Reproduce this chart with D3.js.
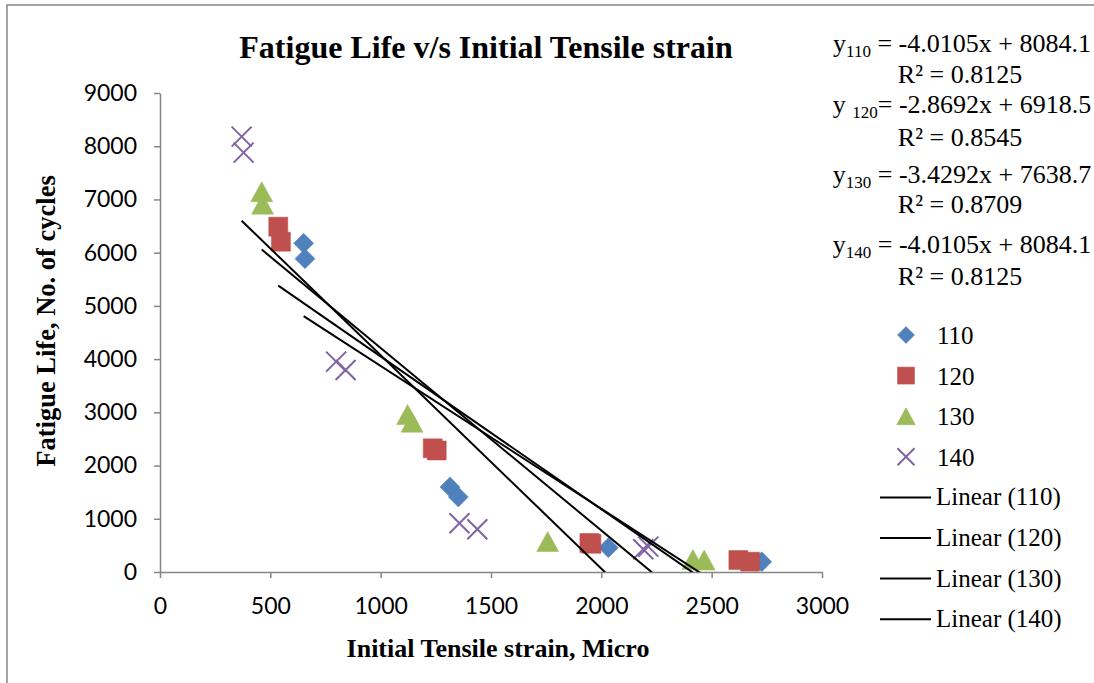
<!DOCTYPE html>
<html>
<head>
<meta charset="utf-8">
<script src="https://cdn.jsdelivr.net/npm/d3@7"></script>
<style>
  html, body { margin: 0; padding: 0; background: #fff; }
  svg { display: block; }
</style>
</head>
<body>
<svg id="chart" width="1094" height="683"></svg>
<script>
// values
const seriesNames = ['110', '120', '130', '140'];

const strain110 = [651, 657, 1314, 1352, 2032, 2727];
const life110 = [6176, 5887, 1597, 1409, 457, 194];

const strain120 = [536, 548, 1236, 1254, 1946, 1955, 2621, 2674];
const life120 = [6488, 6206, 2324, 2283, 545, 530, 225, 194];

const strain130 = [461, 465, 1122, 1142, 1757, 2415, 2466];
const life130 = [7146, 6912, 2959, 2815, 573, 235, 225];

const strain140 = [370, 379, 798, 841, 1357, 1438, 2190, 2213];
const life140 = [8180, 7879, 3952, 3796, 915, 802, 427, 476];

// trend lines (110, the label on the chart is a copy of 140)
const trendSlopes = [-2.683, -2.8692, -3.4292, -4.0105];
const trendIntercepts = [6554, 6918.5, 7638.7, 8084.1];

const eqPrefix = ['y', 'y ', 'y', 'y'];
const eqSub = ['110', '120', '130', '140'];
const eqRest = [' = -4.0105x + 8084.1', '= -2.8692x + 6918.5',
  ' = -3.4292x + 7638.7', ' = -4.0105x + 8084.1'];
const eqR2 = ['R² = 0.8125', 'R² = 0.8545', 'R² = 0.8709', 'R² = 0.8125'];

const xTicks = [0, 500, 1000, 1500, 2000, 2500, 3000];
const yTicks = [0, 1000, 2000, 3000, 4000, 5000, 6000, 7000, 8000, 9000];

const colors = ['#4F81BD', '#C0504D', '#9BBB59', '#8064A2'];
const shapes = ['diamond', 'square', 'triangle', 'x'];

const series = [
  {xs: strain110, ys: life110},
  {xs: strain120, ys: life120},
  {xs: strain130, ys: life130},
  {xs: strain140, ys: life140},
].map((s, i) => ({
  name: seriesNames[i],
  points: s.xs.map((v, j) => [v, s.ys[j]]),
  color: colors[i],
  shape: shapes[i],
  slope: trendSlopes[i],
  intercept: trendIntercepts[i],
}));

const serif = '"Liberation Serif", "Times New Roman", serif';
const sans = 'Lato, "Open Sans", sans-serif';
const grey = '#868686';

const svg = d3.select('#chart');

const markerPath = (shape, r) => {
  if (shape === 'diamond') {
    return `M0,${-r}L${r},0L0,${r}L${-r},0Z`;
  }
  if (shape === 'square') {
    return `M${-r},${-r}h${2 * r}v${2 * r}h${-2 * r}Z`;
  }
  if (shape === 'triangle') {
    return `M0,${-r}L${r * 1.1},${r}L${-r * 1.1},${r}Z`;
  }
  return `M${-r},${-r}L${r},${r}M${r},${-r}L${-r},${r}`;
};

const drawMarker = (sel, s, r) => {
  sel.append('path')
      .attr('d', markerPath(s.shape, r))
      .attr('fill', s.shape === 'x' ? 'none' : s.color)
      .attr('stroke', s.color)
      .attr('stroke-width', s.shape === 'x' ? 2 : 0.5);
};

// chart border (only top and left show in the frame)
svg.append('rect')
    .attr('x', 7)
    .attr('y', 5)
    .attr('width', 1200)
    .attr('height', 800)
    .attr('fill', 'none')
    .attr('stroke', grey)
    .attr('stroke-width', 1.5);

const x = d3.scaleLinear().domain([0, 3000]).range([160, 822]);
const y = d3.scaleLinear().domain([0, 9000]).range([572, 93]);

const xAxis = svg.append('g')
    .attr('transform', `translate(0,${y(0)})`)
    .call(d3.axisBottom(x).tickValues(xTicks).tickSize(6)
        .tickSizeOuter(0).tickPadding(20).tickFormat(d3.format('d')));
const yAxis = svg.append('g')
    .attr('transform', `translate(${x(0)},0)`)
    .call(d3.axisLeft(y).tickValues(yTicks).tickSize(6)
        .tickSizeOuter(0).tickPadding(17).tickFormat(d3.format('d')));

[xAxis, yAxis].forEach((g) => {
  g.select('.domain').attr('stroke', grey).attr('stroke-width', 1.5);
  g.selectAll('.tick line').attr('stroke', grey).attr('stroke-width', 1.5);
  g.selectAll('.tick text')
      .attr('fill', '#000')
      .style('font-family', sans)
      .style('font-size', '23px');
});

svg.append('clipPath')
    .attr('id', 'plot-clip')
    .append('rect')
    .attr('x', x(0))
    .attr('y', y(9000))
    .attr('width', x(3000) - x(0))
    .attr('height', y(0) - y(9000));

// markers
series.forEach((s) => {
  s.points.forEach((p) => {
    const g = svg.append('g')
        .attr('transform', `translate(${x(p[0])},${y(p[1])})`);
    drawMarker(g, s, s.shape === 'square' ? 9.5 : 10);
  });
});

// linear trend lines, from min to max strain of each series
const line = d3.line().x((d) => x(d[0])).y((d) => y(d[1]));
const trends = svg.append('g').attr('clip-path', 'url(#plot-clip)');
series.forEach((s) => {
  const ext = d3.extent(s.points, (d) => d[0]);
  const pts = ext.map((v) => [v, s.slope * v + s.intercept]);
  trends.append('path')
      .attr('d', line(pts))
      .attr('fill', 'none')
      .attr('stroke', '#000')
      .attr('stroke-width', 2);
});

// titles
svg.append('text')
    .attr('x', 486)
    .attr('y', 58)
    .attr('text-anchor', 'middle')
    .style('font-family', serif)
    .style('font-weight', 'bold')
    .style('font-size', '32px')
    .text('Fatigue Life v/s Initial Tensile strain');

svg.append('text')
    .attr('x', 498)
    .attr('y', 657)
    .attr('text-anchor', 'middle')
    .style('font-family', serif)
    .style('font-weight', 'bold')
    .style('font-size', '26px')
    .text('Initial Tensile strain, Micro');

svg.append('text')
    .attr('transform', 'translate(55,321) rotate(-90)')
    .attr('text-anchor', 'middle')
    .style('font-family', serif)
    .style('font-weight', 'bold')
    .style('font-size', '26.5px')
    .text('Fatigue Life, No. of cycles');

// trend equations
const eqY = [52, 112.7, 182.7, 253.3];
const r2Y = [83.3, 146, 213.3, 285];
seriesNames.forEach((n, i) => {
  const t = svg.append('text')
      .attr('x', 962)
      .attr('y', eqY[i])
      .attr('text-anchor', 'middle')
      .style('font-family', serif)
      .style('font-size', '26px');
  t.append('tspan').text(eqPrefix[i]);
  t.append('tspan')
      .attr('dy', 5)
      .style('font-size', '17px')
      .text(eqSub[i]);
  t.append('tspan')
      .attr('dy', -5)
      .style('white-space', 'pre')
      .text(eqRest[i]);
  svg.append('text')
      .attr('x', 960)
      .attr('y', r2Y[i])
      .attr('text-anchor', 'middle')
      .style('font-family', serif)
      .style('font-size', '26px')
      .text(eqR2[i]);
});

// legend
const legendTop = 335;
const legendStep = 40.6;
series.forEach((s, i) => {
  const g = svg.append('g')
      .attr('transform', `translate(906,${legendTop + i * legendStep})`);
  drawMarker(g, s, 8.5);
  svg.append('text')
      .attr('x', 937)
      .attr('y', legendTop + i * legendStep + 9)
      .style('font-family', serif)
      .style('font-size', '25px')
      .text(s.name);
});
series.forEach((s, i) => {
  const ly = legendTop + (i + 4) * legendStep;
  svg.append('line')
      .attr('x1', 880)
      .attr('x2', 931)
      .attr('y1', ly)
      .attr('y2', ly)
      .attr('stroke', '#000')
      .attr('stroke-width', 2);
  svg.append('text')
      .attr('x', 936)
      .attr('y', ly + 8)
      .style('font-family', serif)
      .style('font-size', '25px')
      .text(`Linear (${s.name})`);
});
</script>
</body>
</html>
